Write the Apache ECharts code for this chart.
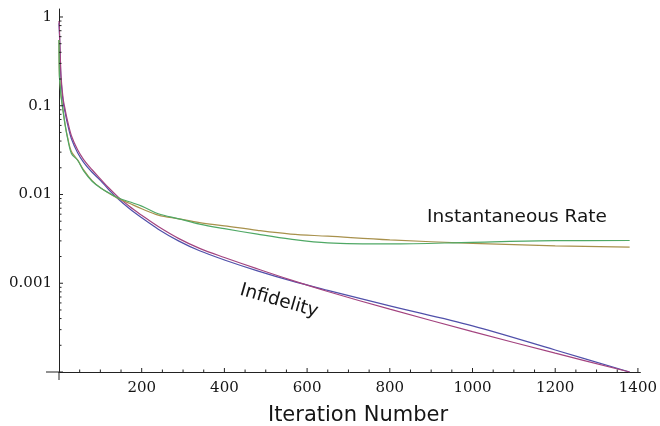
<!DOCTYPE html>
<html>
<head>
<meta charset="utf-8">
<script src="https://cdn.jsdelivr.net/npm/echarts@6/dist/echarts.min.js"></script>
<style>
  html, body { margin: 0; padding: 0; background: #ffffff; }
  #chart { width: 660px; height: 426px; }
</style>
</head>
<body>
<div id="chart"></div>
<script>
// Iteration counts at which the four curves are sampled
const iterations = [0, 1, 3, 5, 10, 15, 20, 30, 45, 60, 80, 100, 120, 142, 170,
  200, 240, 290, 340, 400, 480, 560, 650, 800, 1000, 1200, 1380];

// Infidelity (two runs)
const infidelityBlue = [0.85, 0.66, 0.34, 0.195, 0.11, 0.083, 0.064, 0.0425, 0.0296, 0.0229, 0.0178, 0.01445, 0.01136, 0.009, 0.00694,
  0.00546, 0.00407, 0.00298, 0.00232, 0.00183, 0.00138, 0.00107, 0.000832, 0.000556, 0.000331, 0.000177, 0.0001];
const infidelityPurple = [0.9, 0.72, 0.376, 0.212, 0.12, 0.09, 0.0695, 0.0459, 0.0319, 0.0246, 0.019, 0.01503, 0.0119, 0.00947, 0.00736,
  0.00583, 0.00435, 0.00318, 0.00247, 0.00195, 0.00145, 0.00109, 0.000808, 0.00051, 0.000285, 0.000163, 0.0001];

// Instantaneous rate (two runs)
const rateGold = [0.55, 0.22, 0.17, 0.13, 0.088, 0.061, 0.046, 0.0305, 0.0245, 0.0188, 0.0143, 0.0119, 0.0104, 0.0091, 0.00796,
  0.0069, 0.00586, 0.00532, 0.00483, 0.00444, 0.00394, 0.00358, 0.00339, 0.00308, 0.00282, 0.00264, 0.00255];
const rateGreen = [0.55, 0.214, 0.164, 0.127, 0.0856, 0.0595, 0.0447, 0.029, 0.0243, 0.0183, 0.0141, 0.0119, 0.01045, 0.0092, 0.00828,
  0.0074, 0.00606, 0.00532, 0.00464, 0.00412, 0.00357, 0.00314, 0.00285, 0.00277, 0.00289, 0.00302, 0.00303];

// Axis ticks and labels
const xTickLabels = [200, 400, 600, 800, 1000, 1200, 1400];
const yTickLabels = ['1', '0.1', '0.01', '0.001'];   // 10^0 .. 10^-3

const X_MIN = 0, X_MAX = 1406, Y_MIN = 1e-4, Y_MAX = 1.23;
const AXIS_COLOR = '#222222';
const TEXT_COLOR = '#151515';

function pairs(vals) { return iterations.map((it, i) => [it, vals[i]]); }

// Tick positions: decades with 2..9 subdivisions on y, every 50 on x
const yTicks = [];
for (let e = -4; e <= 0; e++) {
  for (let m = 1; m <= 9; m++) {
    const v = m * Math.pow(10, e);
    if (v <= Y_MAX) yTicks.push([X_MIN, v, m === 1 ? 1 : 0]);
  }
}
const xTicks = [];
for (let x = 50; x <= 1400; x += 50) xTicks.push([x, Y_MIN, x % 200 === 0 ? 1 : 0]);

function tickItem(vertical) {
  return function (params, api) {
    const p = api.coord([api.value(0), api.value(1)]);
    const len = api.value(2) ? 4 : 2.5;
    const shape = vertical
      ? { x1: p[0], y1: p[1], x2: p[0] + len, y2: p[1] }
      : { x1: p[0], y1: p[1], x2: p[0], y2: p[1] - len };
    return { type: 'line', shape: shape, style: { stroke: AXIS_COLOR, lineWidth: 1 } };
  };
}

const chart = echarts.init(document.getElementById('chart'), null, { renderer: 'canvas' });

const lineBase = {
  type: 'line', showSymbol: false, symbol: 'none', smooth: 0.35,
  silent: true, z: 3
};

chart.setOption({
  animation: false,
  backgroundColor: '#ffffff',
  grid: { left: 59, right: 17, top: 9, bottom: 54, containLabel: false },
  xAxis: {
    type: 'value', min: X_MIN, max: X_MAX, interval: 200,
    axisLine: { show: true, onZero: false, lineStyle: { color: AXIS_COLOR, width: 1 } },
    axisTick: { show: false },
    splitLine: { show: false },
    axisLabel: {
      formatter: v => (xTickLabels.indexOf(v) >= 0 ? String(v) : ''),
      fontFamily: 'DejaVu Serif', fontSize: 15, color: TEXT_COLOR, margin: 9
    }
  },
  yAxis: {
    type: 'log', logBase: 10, min: Y_MIN, max: Y_MAX,
    axisLine: { show: true, lineStyle: { color: AXIS_COLOR, width: 1 } },
    axisTick: { show: false },
    minorTick: { show: false },
    splitLine: { show: false },
    axisLabel: {
      formatter: function (v) {
        const e = Math.log10(v);
        const r = Math.round(e);
        if (Math.abs(e - r) > 1e-6 || r > 0 || r < -3) return '';
        return yTickLabels[-r];
      },
      fontFamily: 'DejaVu Serif', fontSize: 15, color: TEXT_COLOR, margin: 7
    }
  },
  series: [
    Object.assign({}, lineBase, { name: 'Infidelity A', data: pairs(infidelityBlue),
      lineStyle: { color: '#5050aa', width: 1.2 } }),
    Object.assign({}, lineBase, { name: 'Infidelity B', data: pairs(infidelityPurple),
      lineStyle: { color: '#a3437f', width: 1.2 } }),
    Object.assign({}, lineBase, { name: 'Instantaneous Rate A', data: pairs(rateGold),
      lineStyle: { color: '#a8914c', width: 1.2 } }),
    Object.assign({}, lineBase, { name: 'Instantaneous Rate B', data: pairs(rateGreen),
      lineStyle: { color: '#4fa865', width: 1.2 } }),
    { type: 'custom', silent: true, clip: false, z: 5, data: yTicks, renderItem: tickItem(true) },
    { type: 'custom', silent: true, clip: false, z: 5, data: xTicks, renderItem: tickItem(false) },
    {
      // axes crossing past the origin
      type: 'custom', silent: true, clip: false, z: 5, data: [[X_MIN, Y_MIN]],
      renderItem: function (params, api) {
        const o = api.coord([api.value(0), api.value(1)]);
        return {
          type: 'group', children: [
            { type: 'line', shape: { x1: o[0] - 13, y1: o[1], x2: o[0], y2: o[1] }, style: { stroke: AXIS_COLOR, lineWidth: 1 } },
            { type: 'line', shape: { x1: o[0], y1: o[1], x2: o[0], y2: o[1] + 8 }, style: { stroke: AXIS_COLOR, lineWidth: 1 } }
          ]
        };
      }
    }
  ],
  graphic: [
    { type: 'text', x: 517, y: 217, silent: true,
      style: { text: 'Instantaneous Rate', font: '18.5px "DejaVu Sans"', fill: TEXT_COLOR, align: 'center', verticalAlign: 'middle' } },
    { type: 'text', x: 279, y: 301, rotation: -16 * Math.PI / 180, silent: true,
      style: { text: 'Infidelity', font: '18.5px "DejaVu Sans"', fill: TEXT_COLOR, align: 'center', verticalAlign: 'middle' } },
    { type: 'text', x: 358, y: 416, silent: true,
      style: { text: 'Iteration Number', font: '21px "DejaVu Sans"', fill: TEXT_COLOR, align: 'center', verticalAlign: 'middle' } }
  ]
});
</script>
</body>
</html>
